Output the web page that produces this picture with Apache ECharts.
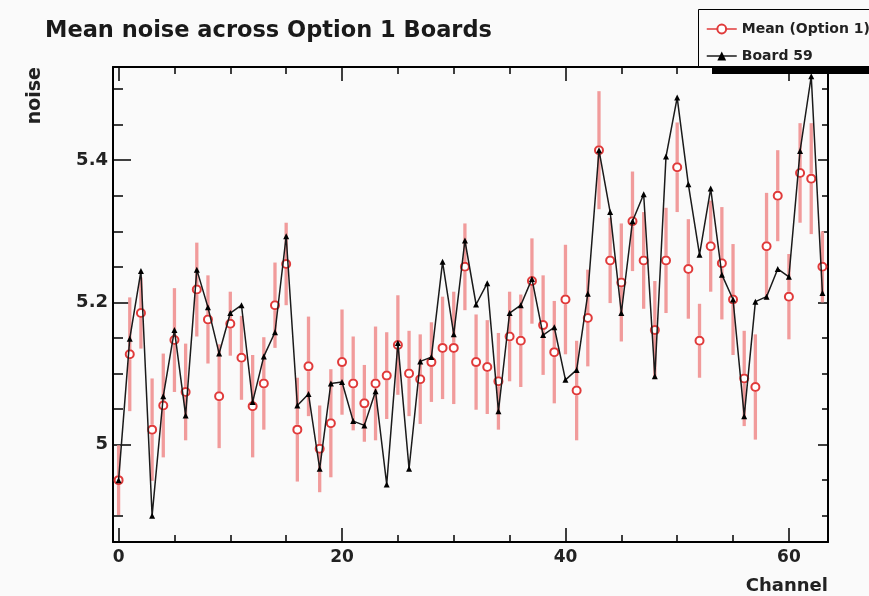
<!DOCTYPE html>
<html>
<head>
<meta charset="utf-8">
<script src="https://cdn.jsdelivr.net/npm/echarts@6/dist/echarts.min.js"></script>
<style>
html,body{margin:0;padding:0;background:#fafafa;}
#chart{width:869px;height:596px;}
</style>
</head>
<body>
<div id="chart"></div>
<script>
var channels = [];
for (var c = 0; c < 64; c++) channels.push(c);

var meanOption1 = [4.950,5.127,5.185,5.021,5.055,5.147,5.074,5.218,5.176,5.068,
  5.170,5.122,5.054,5.086,5.196,5.254,5.021,5.110,4.994,5.030,
  5.116,5.086,5.058,5.086,5.097,5.140,5.100,5.092,5.116,5.136,
  5.136,5.250,5.116,5.109,5.089,5.152,5.146,5.230,5.168,5.130,
  5.204,5.076,5.178,5.414,5.259,5.228,5.314,5.259,5.161,5.259,
  5.390,5.247,5.146,5.279,5.255,5.204,5.093,5.081,5.279,5.350,
  5.208,5.382,5.374,5.250];

var meanError = [0.049,0.080,0.050,0.072,0.073,0.073,0.068,0.066,0.062,0.073,
  0.045,0.059,0.072,0.065,0.060,0.058,0.073,0.070,0.061,0.076,
  0.074,0.066,0.054,0.080,0.061,0.070,0.060,0.063,0.056,0.072,
  0.079,0.061,0.067,0.066,0.068,0.063,0.065,0.060,0.070,0.072,
  0.077,0.070,0.068,0.083,0.060,0.083,0.070,0.068,0.069,0.074,
  0.063,0.070,0.052,0.064,0.079,0.078,0.067,0.074,0.075,0.064,
  0.060,0.070,0.078,0.050];

var board59 = [4.950,5.149,5.244,4.900,5.068,5.161,5.041,5.246,5.193,5.128,
  5.185,5.196,5.060,5.124,5.158,5.293,5.055,5.071,4.966,5.086,
  5.088,5.033,5.027,5.075,4.944,5.143,4.966,5.117,5.123,5.257,
  5.155,5.287,5.197,5.227,5.047,5.185,5.196,5.233,5.154,5.165,
  5.091,5.105,5.212,5.414,5.327,5.185,5.314,5.352,5.096,5.405,
  5.488,5.366,5.267,5.360,5.239,5.204,5.040,5.201,5.208,5.247,
  5.236,5.413,5.518,5.213];

var xMajorTicks = [0, 20, 40, 60];
var yMajorTicks = [5.0, 5.2, 5.4];

var FONT = 'DejaVu Sans';
var RED = '#e03a3a';
var BAR = '#f19b9b';

var meanData = channels.map(function (c, i) { return [c, meanOption1[i]]; });
var errData = channels.map(function (c, i) { return [c, meanOption1[i], meanError[i]]; });
var boardData = channels.map(function (c, i) { return [c, board59[i]]; });

function isMajor(v, list) {
  for (var i = 0; i < list.length; i++) if (Math.abs(v - list[i]) < 1e-6) return true;
  return false;
}

var chart = echarts.init(document.getElementById('chart'), null, {renderer: 'canvas'});

var XMIN = -0.5, XMAX = 63.5, YMIN = 4.863, YMAX = 5.531;
var axisLine = {show: true, onZero: false, lineStyle: {color: '#000', width: 2}};
var noLine = {show: false, onZero: false};
function tick(len) { return {show: true, inside: true, length: len, lineStyle: {color: '#000', width: 1.5}}; }

var gridBox = {left: 113, top: 67, right: 41, bottom: 54, containLabel: false};

chart.setOption({
  backgroundColor: '#fafafa',
  animation: false,
  title: {
    text: 'Mean noise across Option 1 Boards',
    left: 45, top: 20, padding: 0,
    textStyle: {fontFamily: FONT, fontWeight: 'bold', fontSize: 22.5, color: '#1a1a1a'}
  },
  legend: {
    orient: 'vertical', left: 701, top: 17, z: 20,
    itemWidth: 30, itemHeight: 11, itemGap: 13,
    textStyle: {fontFamily: FONT, fontWeight: 'bold', fontSize: 14, color: '#222'},
    lineStyle: {width: 1.5},
    data: [
      {name: 'Mean (Option 1)', lineStyle: {opacity: 1, color: RED, width: 1.5}},
      {name: 'Board 59'}
    ]
  },
  graphic: [
    {type: 'rect', z: 10, shape: {x: 712, y: 67, width: 200, height: 7}, style: {fill: '#000'}},
    {type: 'rect', z: 11, shape: {x: 698.5, y: 9.5, width: 200, height: 57}, style: {fill: '#fafafa', stroke: '#000', lineWidth: 1}}
  ],
  grid: [gridBox, gridBox],
  xAxis: [
    {
      gridIndex: 0, type: 'value', position: 'bottom', min: XMIN, max: XMAX,
      minInterval: 20, maxInterval: 20,
      axisLine: axisLine, axisTick: tick(14),
      splitLine: {show: false},
      axisLabel: {
        margin: 7, fontFamily: FONT, fontWeight: 'bold', fontSize: 17, color: '#222',
        formatter: function (v) { return isMajor(v, xMajorTicks) ? String(Math.round(v)) : ''; }
      },
      name: 'Channel', nameLocation: 'end', nameGap: 0,
      nameTextStyle: {fontFamily: FONT, fontWeight: 'bold', fontSize: 18, color: '#222',
        align: 'right', verticalAlign: 'top', padding: [35, 0, 0, 0]}
    },
    {
      gridIndex: 0, type: 'value', position: 'top', min: XMIN, max: XMAX,
      minInterval: 20, maxInterval: 20,
      axisLine: axisLine, axisTick: tick(14),
      splitLine: {show: false}, axisLabel: {show: false}
    },
    {
      gridIndex: 1, type: 'value', position: 'bottom', min: XMIN, max: XMAX,
      minInterval: 5, maxInterval: 5,
      axisLine: noLine, axisTick: tick(7),
      splitLine: {show: false}, axisLabel: {show: false}
    },
    {
      gridIndex: 1, type: 'value', position: 'top', min: XMIN, max: XMAX,
      minInterval: 5, maxInterval: 5,
      axisLine: noLine, axisTick: tick(7),
      splitLine: {show: false}, axisLabel: {show: false}
    }
  ],
  yAxis: [
    {
      gridIndex: 0, type: 'value', position: 'left', min: YMIN, max: YMAX,
      minInterval: 0.2, maxInterval: 0.2,
      axisLine: axisLine, axisTick: tick(18),
      splitLine: {show: false},
      axisLabel: {
        margin: 5, fontFamily: FONT, fontWeight: 'bold', fontSize: 18, color: '#222',
        formatter: function (v) { return isMajor(v, yMajorTicks) ? String(+v.toFixed(1)) : ''; }
      },
      name: 'noise', nameLocation: 'end', nameGap: 0, nameRotate: 90,
      nameTextStyle: {fontFamily: FONT, fontWeight: 'bold', fontSize: 19, color: '#222',
        align: 'right', verticalAlign: 'bottom', padding: [0, 0, 68, 0]}
    },
    {
      gridIndex: 0, type: 'value', position: 'right', min: YMIN, max: YMAX,
      minInterval: 0.2, maxInterval: 0.2,
      axisLine: axisLine, axisTick: tick(10),
      splitLine: {show: false}, axisLabel: {show: false}
    },
    {
      gridIndex: 1, type: 'value', position: 'left', min: YMIN, max: YMAX,
      minInterval: 0.05, maxInterval: 0.05,
      axisLine: noLine, axisTick: tick(10),
      splitLine: {show: false}, axisLabel: {show: false}
    },
    {
      gridIndex: 1, type: 'value', position: 'right', min: YMIN, max: YMAX,
      minInterval: 0.05, maxInterval: 0.05,
      axisLine: noLine, axisTick: tick(6),
      splitLine: {show: false}, axisLabel: {show: false}
    }
  ],
  series: [
    {
      name: 'Mean error', type: 'custom', xAxisIndex: 0, yAxisIndex: 0, clip: true,
      data: errData, z: 2,
      renderItem: function (params, api) {
        var x = api.value(0), y = api.value(1), e = api.value(2);
        var p1 = api.coord([x, y + e]);
        var pc = api.coord([x, y]);
        var p2 = api.coord([x, y - e]);
        var gap = 5;
        return {type: 'group', children: [
          {type: 'line', shape: {x1: p1[0], y1: p1[1], x2: pc[0], y2: pc[1] - gap},
            style: {stroke: BAR, lineWidth: 3.3}},
          {type: 'line', shape: {x1: pc[0], y1: pc[1] + gap, x2: p2[0], y2: p2[1]},
            style: {stroke: BAR, lineWidth: 3.3}}
        ]};
      }
    },
    {
      name: 'Mean (Option 1)', type: 'line', xAxisIndex: 0, yAxisIndex: 0,
      data: meanData, z: 3,
      symbol: 'emptyCircle', symbolSize: 8, showSymbol: true,
      itemStyle: {color: RED, borderColor: RED, borderWidth: 1.8},
      lineStyle: {color: RED, width: 1.5, opacity: 0}
    },
    {
      name: 'Board 59', type: 'line', xAxisIndex: 0, yAxisIndex: 0,
      data: boardData, z: 4,
      symbol: 'triangle', symbolSize: 6, showSymbol: true,
      itemStyle: {color: '#000'},
      lineStyle: {color: '#1a1a1a', width: 1.5}
    }
  ]
});
</script>
</body>
</html>
